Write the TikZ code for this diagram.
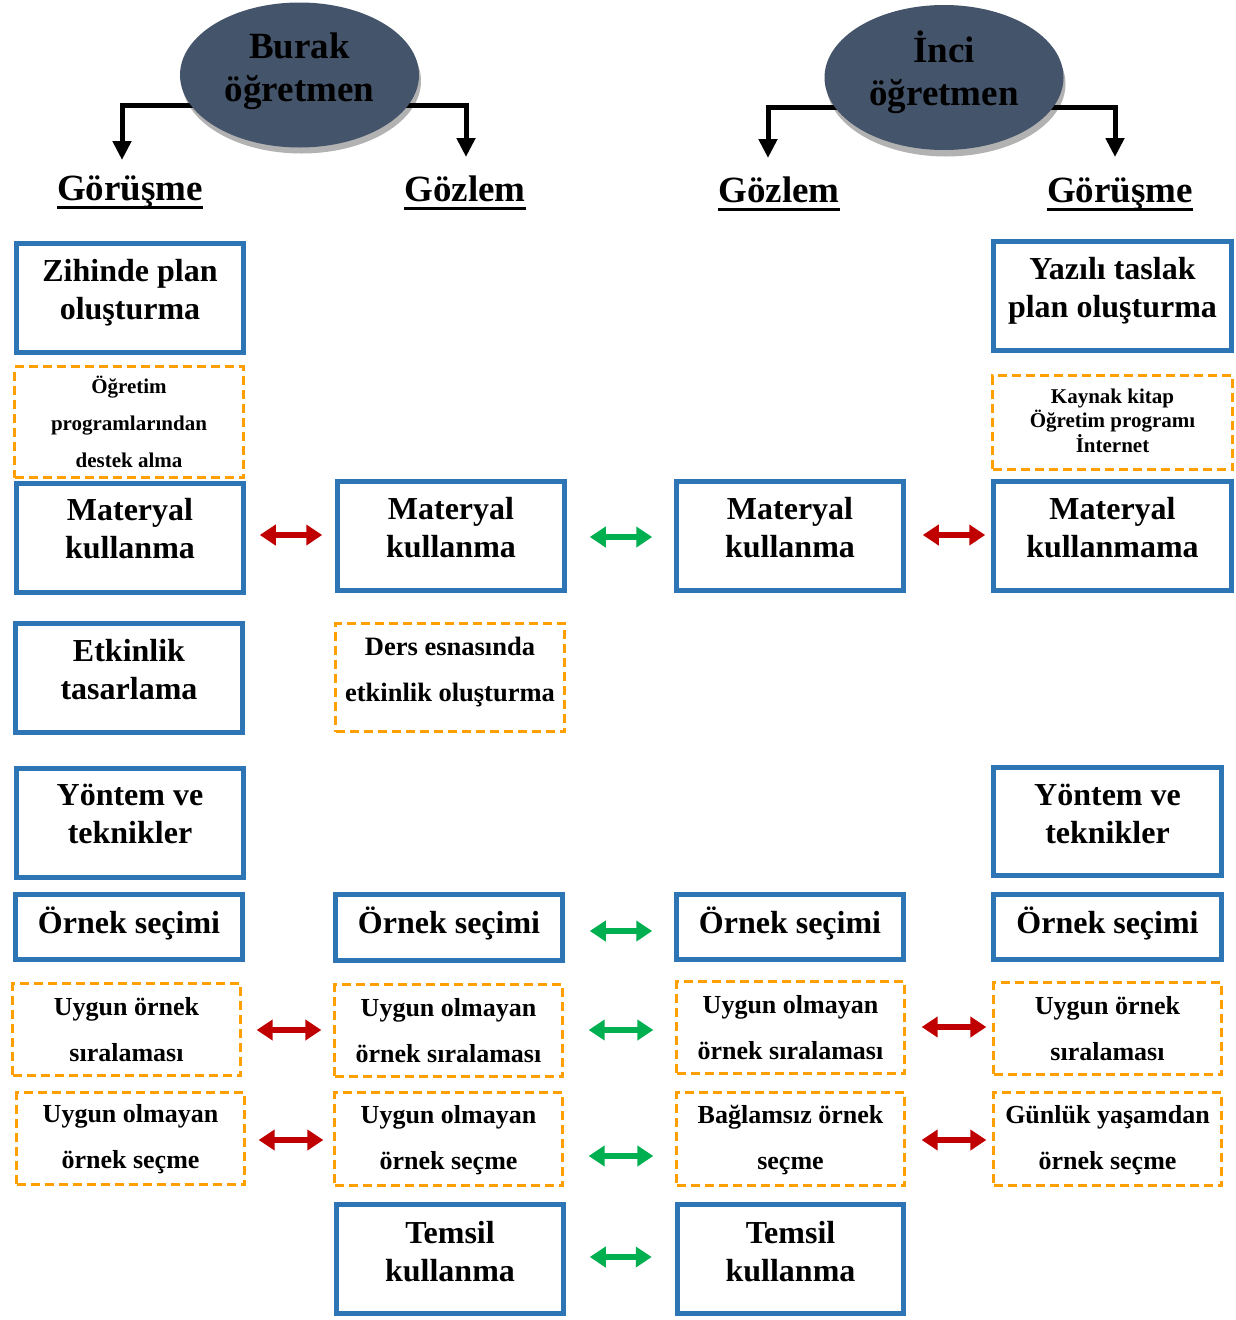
\documentclass[tikz,border=0pt]{standalone}
\usepackage{fontspec}
\setmainfont{Liberation Serif}
\usetikzlibrary{arrows.meta,shapes.geometric,backgrounds}
\definecolor{bblue}{HTML}{2E75B6}
\definecolor{oorange}{HTML}{FF9F00}
\definecolor{rred}{HTML}{C00000}
\definecolor{ggreen}{HTML}{00B050}
\definecolor{eblue}{HTML}{44546A}
\newcommand\fA{\bfseries\fontsize{32}{38}\selectfont}
\newcommand\fB{\bfseries\fontsize{26}{46}\selectfont}
\newcommand\fC{\bfseries\fontsize{21}{37}\selectfont}
\newcommand\fD{\bfseries\fontsize{21}{24.5}\selectfont}
\newcommand\fE{\bfseries\fontsize{37}{43}\selectfont}
\newcommand\fF{\bfseries\fontsize{26.5}{46}\selectfont}
\tikzset{
  bluebox/.style={draw=bblue, line width=5.5pt, fill=white, inner sep=0pt},
  orbox/.style={draw=oorange, line width=3.3pt, dash pattern=on 9pt off 5pt, fill=white, inner sep=0pt},
  txt/.style={align=center, inner sep=0pt, font=\bfseries},
  ell/.style={ellipse, fill=eblue, minimum width=239pt, minimum height=145pt, inner sep=0pt},
  ellsh/.style={ellipse, fill=black!30, minimum width=239pt, minimum height=145pt, inner sep=0pt},
  blk/.style={line width=5pt, -{Triangle[length=19pt,width=18pt]}},
  redarr/.style={draw=rred, line width=6pt, {Triangle[length=16pt,width=20pt]}-{Triangle[length=16pt,width=20pt]}},
  grnarr/.style={draw=ggreen, line width=6pt, {Triangle[length=16pt,width=20pt]}-{Triangle[length=16pt,width=20pt]}},
  uline/.style={line width=3pt}
}
% style, name, cx, cy, w, h, text, dy, font
\newcommand\bx[9]{%
  \node[#1, minimum width=#5pt, minimum height=#6pt] (#2) at (#3,#4) {};
  \node[txt, font=#9] (#2t) at ([yshift=#8pt]#2.center) {#7};}
\begin{document}
\begin{tikzpicture}[x=1pt,y=-1pt]
\useasboundingbox (0,0) rectangle (1236,1320);

% teachers
\node[ell] (burak) at (299.5,75) {};
\node[txt, font=\fE] (burakt) at ([yshift=3.5pt]burak.center) {Burak\\öğretmen};
\node[ell] (inci) at (944,77.5) {};
\node[txt, font=\fE] (incit) at ([yshift=5.5pt]inci.center) {İnci\\öğretmen};

% headings
\node[txt, font=\fE, anchor=base] (h1) at (130,200) {Görüşme};
\node[txt, font=\fE, anchor=base] (h2) at (465,201) {Gözlem};
\node[txt, font=\fE, anchor=base] (h3) at (779,202) {Gözlem};
\node[txt, font=\fE, anchor=base] (h4) at (1120,202) {Görüşme};
\foreach \h in {h1,h2,h3,h4}
  \draw[uline] ([yshift=-7pt]\h.base west) -- ([yshift=-7pt]\h.base east);

\coordinate (bl) at (122,160);
\coordinate (br) at (466,157);
\coordinate (il) at (768,158);
\coordinate (ir) at (1115,157);

\begin{scope}[on background layer]
  \node[ellsh] (burakS) at (301.5,81) {};
  \node[ellsh] (inciS) at (946,84) {};
  \draw[blk] ([yshift=-30.5pt]burak.center) -| (bl);
  \draw[blk] ([yshift=-30.5pt]burak.center) -| (br);
  \draw[blk] ([yshift=-29.5pt]inci.center) -| (il);
  \draw[blk] ([yshift=-29.5pt]inci.center) -| (ir);
\end{scope}

% column 1
\bx{bluebox}{z1}{130}{298}{227}{109}{Zihinde plan\\oluşturma}{5}{\fA}
\bx{orbox}{p1}{129}{422}{229}{111}{Öğretim\\programlarından\\destek alma}{0}{\fC}
\bx{bluebox}{m1}{130}{538}{227}{109}{Materyal\\kullanma}{9}{\fA}
\bx{bluebox}{e1}{129}{678}{227}{109}{Etkinlik\\tasarlama}{8}{\fA}
\bx{bluebox}{y1}{130}{823}{227}{109}{Yöntem ve\\teknikler}{9}{\fA}
\bx{bluebox}{o1}{129}{927}{227}{65}{Örnek seçimi}{4}{\fA}
\bx{orbox}{s1}{126.5}{1029.5}{228}{92}{Uygun örnek\\sıralaması}{0}{\fB}
\bx{orbox}{c1}{130.5}{1138.5}{228}{92}{Uygun olmayan\\örnek seçme}{-1}{\fB}

% column 2
\bx{bluebox}{m2}{451}{536}{227}{109}{Materyal\\kullanma}{8}{\fA}
\bx{orbox}{d2}{450}{677.5}{229}{108}{Ders esnasında\\etkinlik oluşturma}{5.5}{\fF}
\bx{bluebox}{o2}{449}{927.5}{227}{66}{Örnek seçimi}{4}{\fA}
\bx{orbox}{s2}{448.5}{1030.5}{228}{92}{Uygun olmayan\\örnek sıralaması}{0}{\fB}
\bx{orbox}{c2}{448.5}{1139}{228}{93}{Uygun olmayan\\örnek seçme}{-1}{\fB}
\bx{bluebox}{t2}{450}{1259}{227}{109}{Temsil\\kullanma}{7}{\fA}

% column 3
\bx{bluebox}{m3}{790}{536}{227}{109}{Materyal\\kullanma}{8}{\fA}
\bx{bluebox}{o3}{790}{927}{227}{65}{Örnek seçimi}{4}{\fA}
\bx{orbox}{s3}{790.5}{1027.5}{228}{92}{Uygun olmayan\\örnek sıralaması}{0}{\fB}
\bx{orbox}{c3}{790.5}{1139}{228}{93}{Bağlamsız örnek\\seçme}{-1}{\fB}
\bx{bluebox}{t3}{790.5}{1259}{226}{109}{Temsil\\kullanma}{7}{\fA}

% column 4
\bx{bluebox}{z4}{1112.5}{296}{238}{109}{Yazılı taslak\\plan oluşturma}{5}{\fA}
\bx{orbox}{k4}{1112.5}{422.5}{240}{94}{Kaynak kitap\\Öğretim programı\\İnternet}{2}{\fD}
\bx{bluebox}{m4}{1112.5}{536}{238}{109}{Materyal\\kullanmama}{8}{\fA}
\bx{bluebox}{y4}{1107.5}{821.5}{228}{108}{Yöntem ve\\teknikler}{8}{\fA}
\bx{bluebox}{o4}{1107.5}{927}{228}{65}{Örnek seçimi}{4}{\fA}
\bx{orbox}{s4}{1107.5}{1028.5}{228}{92}{Uygun örnek\\sıralaması}{0}{\fB}
\bx{orbox}{c4}{1107.5}{1139}{228}{93}{Günlük yaşamdan\\örnek seçme}{-1}{\fB}

% comparison arrows
\draw[redarr] ([xshift=13.5pt,yshift=3pt]m1.east) -- ([xshift=-12.5pt,yshift=1pt]m2.west);
\draw[grnarr] ([xshift=22.5pt,yshift=-1pt]m2.east) -- ([xshift=-21.5pt,yshift=-1pt]m3.west);
\draw[redarr] ([xshift=16.5pt,yshift=1pt]m3.east) -- ([xshift=-5.5pt,yshift=1pt]m4.west);
\draw[grnarr] ([xshift=24.5pt,yshift=-3.5pt]o2.east) -- ([xshift=-21.5pt,yshift=-4pt]o3.west);
\draw[redarr] ([xshift=14.5pt,yshift=-0.5pt]s1.east) -- ([xshift=-11.5pt,yshift=0.5pt]s2.west);
\draw[grnarr] ([xshift=24.5pt,yshift=0.5pt]s2.east) -- ([xshift=-21.5pt,yshift=-2.5pt]s3.west);
\draw[redarr] ([xshift=15.5pt,yshift=0.5pt]s3.east) -- ([xshift=-5.5pt,yshift=1.5pt]s4.west);
\draw[redarr] ([xshift=12.5pt,yshift=-1.5pt]c1.east) -- ([xshift=-9.5pt,yshift=-1pt]c2.west);
\draw[grnarr] ([xshift=24.5pt,yshift=-17pt]c2.east) -- ([xshift=-21.5pt,yshift=-17pt]c3.west);
\draw[redarr] ([xshift=15.5pt,yshift=-1pt]c3.east) -- ([xshift=-5.5pt,yshift=-1pt]c4.west);
\draw[grnarr] ([xshift=23.5pt,yshift=2pt]t2.east) -- ([xshift=-23pt,yshift=2pt]t3.west);
\end{tikzpicture}
\end{document}
